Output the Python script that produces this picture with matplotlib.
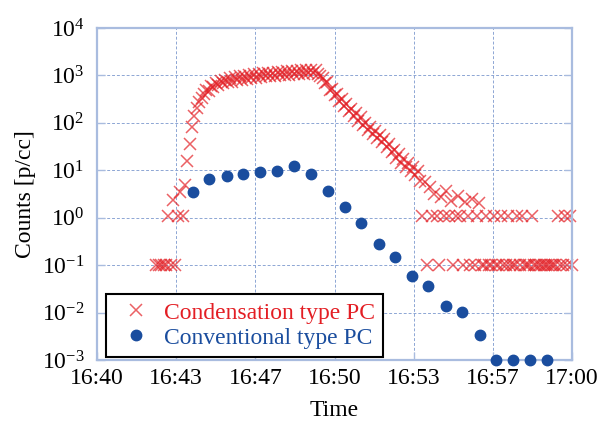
import numpy as np
import matplotlib.pyplot as plt

plt.rcParams['font.family'] = ['Liberation Serif', 'DejaVu Serif']
plt.rcParams['mathtext.fontset'] = 'custom'
plt.rcParams['mathtext.rm'] = 'Liberation Serif'
plt.rcParams['mathtext.it'] = 'Liberation Serif:italic'

################################################################################################
# x values are minutes after 16:40

x_ticks = [0, 20/6, 40/6, 10, 40/3, 50/3, 20]
x_labels = ['16:40', '16:43', '16:47', '16:50', '16:53', '16:57', '17:00']
y_exps = [-3, -2, -1, 0, 1, 2, 3, 4]

# condensation type PC, one reading every 0.1 min from 16:42:30
cond_start = 2.5
cond_vals = [
    0.1, 0.1, 0.1, 0.1, 0.1, 1.1, 0.1, 2.4, 0.1, 1.1,        # 2.5
    3.5, 1.1, 5.0, 16, 35, 80, 140, 210, 270, 330,           # 3.5
    400, 490, 480, 590, 560, 690, 620, 760, 680, 790,        # 4.5
    720, 870, 740, 910, 800, 950, 820, 980, 850, 1000,       # 5.5
    870, 1050, 900, 1090, 920, 1110, 950, 1130, 970, 1150,   # 6.5
    990, 1170, 1000, 1200, 1020, 1220, 1040, 1240, 1060, 1260,   # 7.5
    1080, 1280, 1090, 1300, 1100, 1310, 1120, 1320, 1050, 960,   # 8.5
    900, 680, 720, 500, 530, 380, 410, 290, 320, 230,        # 9.5
    250, 180, 200, 140, 160, 110, 130, 88, 100, 70,          # 10.5
    80, 58, 68, 48, 56, 40, 45, 31, 35, 24,                  # 11.5
    27, 18, 22, 14.5, 17.5, 12, 14, 9.5, 11.5, 8,            # 12.5
    9.5, 6.0, 1.1, 5.8, 0.1, 4.5, 1.1, 3.2, 1.1, 0.1,        # 13.5
    2.8, 1.1, 3.6, 1.1, 2.3, 0.1, 1.1, 2.9, 1.1, 0.1,        # 14.5
    2.1, 1.1, 0.1, 2.5, 0.1, 1.1, 2.0, 0.1, 0.1, 1.1,        # 15.5
    0.1, 0.1, 1.1, 0.1, 0.1, 1.1, 0.1, 0.1, 1.1, 0.1,        # 16.5
    0.1, 0.1, 1.1, 0.1, 1.1, 0.1, 0.1, 0.1, 1.1, 0.1,        # 17.5
    0.1, 0.1, 0.1, 0.1, 0.1, 0.1, 0.1, 0.1, 0.1, 1.1,        # 18.5
    0.1, 0.1, 1.1, 0.1, 1.1, 0.1,                            # 19.5
]
cond_t = cond_start + 0.1*np.arange(len(cond_vals))

# conventional type PC
conv_t = [4.04, 4.72, 5.47, 6.15, 6.86, 7.58, 8.29, 9.01, 9.73, 10.44, 11.12,
          11.87, 12.55, 13.26, 13.94, 14.69, 15.37, 16.13, 16.8, 17.52, 18.23, 18.95]
conv_vals = [3.5, 6.5, 7.6, 8.4, 9.2, 9.7, 12.3, 8.4, 3.7, 1.7, 0.77,
             0.28, 0.15, 0.059, 0.036, 0.0138, 0.0103, 0.0034, 0.001, 0.001, 0.001, 0.001]

################################################################################################

red = '#e31e24'
blue = '#1a4d9e'
edge = '#a9bcdf'
fs = 17

fig = plt.figure(figsize=(6.02, 4.23), dpi=100)
ax = fig.add_axes([97/602, 1 - 360/423, 475/602, 332/423])

ax.plot(cond_t, cond_vals, 'x', ms=8, mew=1.1, color=red, alpha=0.7,
        clip_on=False, label='Condensation type PC')
ax.plot(conv_t, conv_vals, 'o', ms=7.5, color=blue, clip_on=False, zorder=3,
        label='Conventional type PC')

ax.set_yscale('log')
ax.set_xlim(0, 20)
ax.set_ylim(1e-3, 1e4)
ax.set_xticks(x_ticks)
ax.set_xticklabels(x_labels)
ax.set_yticks([10.0**e for e in y_exps])
ax.set_yticklabels([r'$10^{%d}$' % e for e in y_exps])
ax.minorticks_off()

ax.grid(True, ls=(0, (3, 2)), lw=0.7, color='#8da6d4')
for s in ax.spines.values():
    s.set_color(edge)
    s.set_linewidth(1.6)
ax.tick_params(direction='in', length=6, width=1, color=edge, right=True,
               labelsize=fs)
ax.tick_params(axis='y', pad=9)
ax.tick_params(axis='x', pad=6)

ax.set_xlabel('Time', fontsize=fs, labelpad=8)
ax.set_ylabel('Counts [p/cc]', fontsize=fs, labelpad=4)

leg = ax.legend(loc='lower left', bbox_to_anchor=(0.019, 0.009), frameon=True,
                fancybox=False, edgecolor='black', framealpha=1, fontsize=fs,
                handlelength=1.8, handletextpad=0.3, borderpad=0.35,
                labelspacing=0.15, borderaxespad=0)
leg.get_frame().set_linewidth(1.5)
for txt, c in zip(leg.get_texts(), [red, blue]):
    txt.set_color(c)

fig.savefig('out.png', dpi=100)
